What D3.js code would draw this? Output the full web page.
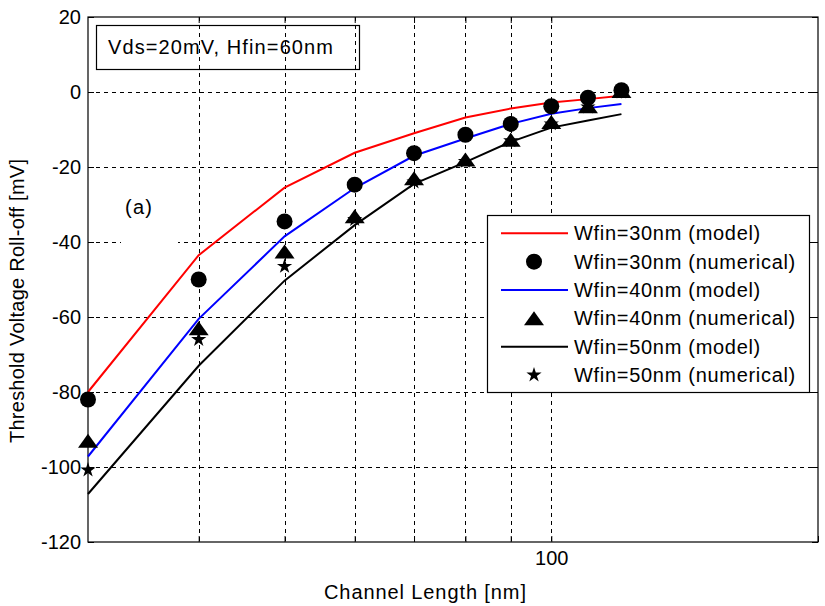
<!DOCTYPE html>
<html><head><meta charset="utf-8">
<script src="https://cdn.jsdelivr.net/npm/d3@7"></script>
<style>
body{margin:0;background:#fff}
text{font-family:"Liberation Sans",Arial,Helvetica,sans-serif;fill:#000}
</style>
</head><body><svg id="c" width="825" height="606"></svg>
<script>
// ---- data ----
const channelLength = [30, 40, 50, 60, 70, 80, 90, 100, 110, 120];
const model30 = [-80, -43.5, -25.5, -16.2, -11.0, -6.8, -4.4, -2.8, -1.9, -1.0];
const model40 = [-97.2, -60.5, -38.5, -25.6, -17.0, -12.4, -8.5, -5.8, -4.3, -3.2];
const model50 = [-107.2, -73.0, -50.3, -35.5, -24.5, -18.7, -13.3, -9.5, -7.6, -5.9];
const num30 = [-82, -50, -34.5, -24.7, -16.3, -11.4, -8.5, -3.8, -1.5, 0.5];
const num40 = [-93, -63, -42.5, -33.1, -23, -18, -12.7, -8, -3.8, 0.3];
const num50 = [-100.8, -66, -46.5, -34, -24, -18.5, -13, -8.5, -4, 0];
const yTicks = [20, 0, -20, -40, -60, -80, -100, -120];
const xGridTicks = [40, 50, 60, 70, 80, 90, 100];
const xLabelTicks = [100];
const legendLabels = ["Wfin=30nm (model)", "Wfin=30nm (numerical)", "Wfin=40nm (model)",
  "Wfin=40nm (numerical)", "Wfin=50nm (model)", "Wfin=50nm (numerical)"];
const xTitle = "Channel Length [nm]";
const yTitle = "Threshold Voltage Roll-off [mV]";
const noteText = "Vds=20mV, Hfin=60nm";
const panelText = "(a)";

// ---- layout ----
const svg = d3.select("#c");
svg.append("rect").attr("width", 825).attr("height", 606).attr("fill", "#fff");
const L = 88, R = 818, T = 17, B = 542;
const x = d3.scaleLog().domain([30, 200]).range([L, R]);
const y = d3.scaleLinear().domain([-120, 20]).range([B, T]);

// grid
const grid = svg.append("g").attr("stroke", "#000").attr("stroke-width", 1).attr("stroke-dasharray", "4,4");
grid.selectAll(".gx").data(xGridTicks).join("line")
  .attr("x1", d => Math.round(x(d)) + 0.5).attr("x2", d => Math.round(x(d)) + 0.5)
  .attr("y1", T).attr("y2", B);
grid.selectAll(".gy").data(yTicks.filter(d => d > -120 && d < 20)).join("line")
  .attr("y1", d => Math.round(y(d)) + 0.5).attr("y2", d => Math.round(y(d)) + 0.5)
  .attr("x1", L).attr("x2", R);

// text background of panel label (hides part of grid as in the original)
svg.append("rect").attr("x", 121).attr("y", 186).attr("width", 57).attr("height", 58).attr("fill", "#fff");

// axes
const fs = 20;
const yAxis = d3.axisLeft(y).tickValues(yTicks).tickSize(-6).tickPadding(7).tickFormat(d => String(d));
const gy = svg.append("g").attr("transform", `translate(${L},0)`).call(yAxis);
gy.select(".domain").remove();
gy.selectAll("text").attr("font-size", fs).attr("font-family", null);
const yAxisR = d3.axisRight(y).tickValues(yTicks).tickSize(-6).tickFormat("");
const gyr = svg.append("g").attr("transform", `translate(${R},0)`).call(yAxisR);
gyr.select(".domain").remove();

const xAxis = d3.axisBottom(x).tickValues(xGridTicks.concat([200])).tickSize(-6).tickPadding(9)
  .tickFormat(d => xLabelTicks.includes(d) ? String(d) : "");
const gx = svg.append("g").attr("transform", `translate(0,${B})`).call(xAxis);
gx.select(".domain").remove();
gx.selectAll("text").attr("font-size", fs).attr("font-family", null);
const xAxisT = d3.axisTop(x).tickValues(xGridTicks).tickSize(-6).tickFormat("");
const gxt = svg.append("g").attr("transform", `translate(0,${T})`).call(xAxisT);
gxt.select(".domain").remove();

svg.append("rect").attr("x", L).attr("y", T).attr("width", R - L).attr("height", B - T)
  .attr("fill", "none").attr("stroke", "#000").attr("stroke-width", 1.2);

// titles
svg.append("text").attr("x", 425).attr("y", 592).attr("text-anchor", "middle")
  .attr("dominant-baseline", "central").attr("font-size", fs)
  .attr("textLength", 202).attr("lengthAdjust", "spacing").text(xTitle);
svg.append("text").attr("transform", "translate(17,301) rotate(-90)").attr("text-anchor", "middle")
  .attr("dominant-baseline", "central").attr("font-size", fs)
  .attr("textLength", 284).attr("lengthAdjust", "spacing").text(yTitle);

// note box
svg.append("rect").attr("x", 96.5).attr("y", 25.5).attr("width", 263).attr("height", 44)
  .attr("fill", "none").attr("stroke", "#000").attr("stroke-width", 1.2);
svg.append("text").attr("x", 108).attr("y", 47).attr("dominant-baseline", "central")
  .attr("font-size", fs).attr("textLength", 225).attr("lengthAdjust", "spacing").text(noteText);
svg.append("text").attr("x", 125).attr("y", 207).attr("dominant-baseline", "central")
  .attr("font-size", fs).attr("textLength", 27).attr("lengthAdjust", "spacing").text(panelText);

// model lines
const line = d3.line().x(d => x(d[0])).y(d => y(d[1]));
const models = [[model30, "#ff0000"], [model40, "#0000ff"], [model50, "#000000"]];
models.forEach(([vals, col]) => {
  svg.append("path").datum(channelLength.map((c, i) => [c, vals[i]]))
    .attr("d", line).attr("fill", "none").attr("stroke", col).attr("stroke-width", 2);
});

// markers
const triPath = "M0,-7L10,7L-10,7Z";
const starPath = d3.symbol(d3.symbolStar, 72)();
function drawMarkers(vals, kind) {
  const g = svg.append("g");
  const pts = channelLength.map((c, i) => [c, vals[i]]);
  if (kind === "circle") {
    g.selectAll("circle").data(pts).join("circle")
      .attr("cx", d => x(d[0])).attr("cy", d => y(d[1])).attr("r", 8).attr("fill", "#000");
  } else {
    g.selectAll("path").data(pts).join("path")
      .attr("transform", d => `translate(${x(d[0])},${y(d[1])})`)
      .attr("d", kind === "tri" ? triPath : starPath).attr("fill", "#000");
  }
}
drawMarkers(num30, "circle");
drawMarkers(num40, "tri");
drawMarkers(num50, "star");

// legend
const lg = svg.append("g");
lg.append("rect").attr("x", 487.5).attr("y", 215.5).attr("width", 322).attr("height", 177)
  .attr("fill", "#fff").attr("stroke", "#000").attr("stroke-width", 1.2);
const rowY = i => 233.3 + i * 28.35;
const legendKinds = [["line", "#ff0000"], ["circle"], ["line", "#0000ff"], ["tri"], ["line", "#000000"], ["star"]];
legendKinds.forEach((k, i) => {
  const yy = rowY(i);
  if (k[0] === "line") {
    lg.append("line").attr("x1", 501).attr("x2", 568).attr("y1", yy).attr("y2", yy)
      .attr("stroke", k[1]).attr("stroke-width", 2);
  } else if (k[0] === "circle") {
    lg.append("circle").attr("cx", 534).attr("cy", yy).attr("r", 8).attr("fill", "#000");
  } else {
    lg.append("path").attr("transform", `translate(534,${yy})`)
      .attr("d", k[0] === "tri" ? triPath : starPath).attr("fill", "#000");
  }
  lg.append("text").attr("x", 574).attr("y", yy).attr("dominant-baseline", "central")
    .attr("font-size", fs).attr("letter-spacing", 0.7).text(legendLabels[i]);
});
</script>
</body></html>
